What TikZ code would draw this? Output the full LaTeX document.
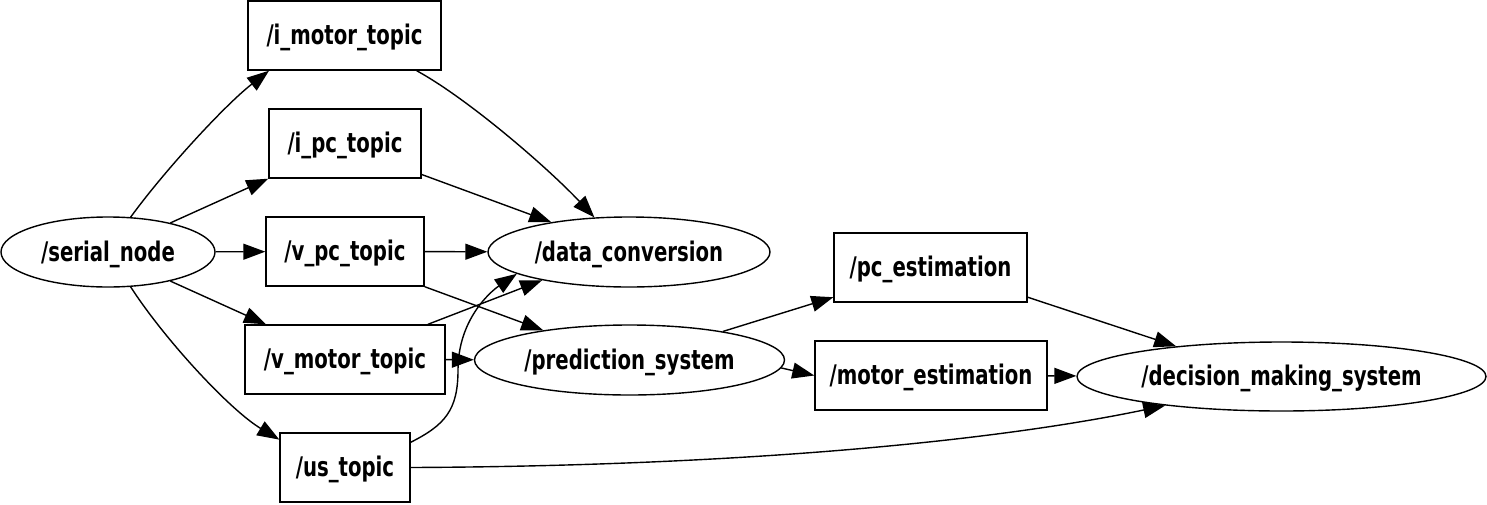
\documentclass[tikz,border=0pt]{standalone}
\usepackage{fontspec}
\usepackage{tikz}
\usetikzlibrary{arrows.meta, shapes.geometric}
\newfontfamily\lblfont{DejaVu Sans Bold}[FakeStretch=0.73]

\begin{document}
\begin{tikzpicture}[x=1pt, y=-1pt, >={Triangle[length=22pt,width=16pt]},
        line width=1.4pt,
        tpc/.style={draw, rectangle, inner sep=0pt, minimum height=69pt,
                    text height=25pt, text depth=7pt,
                    font=\lblfont\fontsize{27}{30}\selectfont},
        nde/.style={draw, ellipse, inner sep=0pt, minimum height=70pt,
                    text height=25pt, text depth=7pt,
                    font=\lblfont\fontsize{27}{30}\selectfont}]

      \useasboundingbox (0,0) rectangle (1487,504);

      % topics
      \node[tpc, minimum width=193pt] (imotor) at (344.5,35.5) {/i\_motor\_topic};
      \node[tpc, minimum width=152pt] (ipc)    at (345,143.5)  {/i\_pc\_topic};
      \node[tpc, minimum width=158pt] (vpc)    at (345,251.5)  {/v\_pc\_topic};
      \node[tpc, minimum width=200pt] (vmotor) at (345,359.5)  {/v\_motor\_topic};
      \node[tpc, minimum width=130pt] (us)     at (345,467.5)  {/us\_topic};
      \node[tpc, minimum width=193pt] (pcest)  at (930.5,267.5) {/pc\_estimation};
      \node[tpc, minimum width=232pt] (motorest) at (931,375.5) {/motor\_estimation};

      % nodes
      \node[nde, minimum width=214pt] (serial)   at (108,252)   {/serial\_node};
      \node[nde, minimum width=282pt] (dataconv) at (629,252)   {/data\_conversion};
      \node[nde, minimum width=310pt] (predsys)  at (629.5,360) {/prediction\_system};
      \node[nde, minimum width=409pt, minimum height=69pt] (decision) at (1281.5,376.5)
            {/decision\_making\_system};

      \draw[->] (serial.57) .. controls (165,170) and (225,105) .. (imotor.205);
      \draw[->] (serial.25) -- (ipc.south west);
      \draw[->] (serial) -- (vpc);
      \draw[->] (serial.-25) -- (vmotor.156);
      \draw[->] (serial.-57) .. controls (165,340) and (230,410) .. (us.157);

      \draw[->] (imotor.-26) .. controls (470,100) and (550,170) .. (dataconv.135);
      \draw[->] (ipc.-22) -- (dataconv.159);
      \draw[->] (vpc) -- (dataconv);
      \draw[->] (vpc.south east) -- (predsys.161);
      \draw[->] (vmotor.23) -- (dataconv.198);
      \draw[->] (vmotor) -- (predsys);
      \draw[->] (us.21) .. controls (445,425) and (458,410) .. (458,370)
                        .. controls (458,320) and (490,292) .. (dataconv.191);
      \draw[->] (us.east) .. controls (750,466) and (1000,440) .. (decision.194.5);

      \draw[->] (predsys.17) -- (pcest.197);
      \draw[->] (predsys.-3) -- (motorest.west);
      \draw[->] (pcest.-17) -- (decision.164.5);
      \draw[->] (motorest) -- (decision);
    \end{tikzpicture}
\end{document}
